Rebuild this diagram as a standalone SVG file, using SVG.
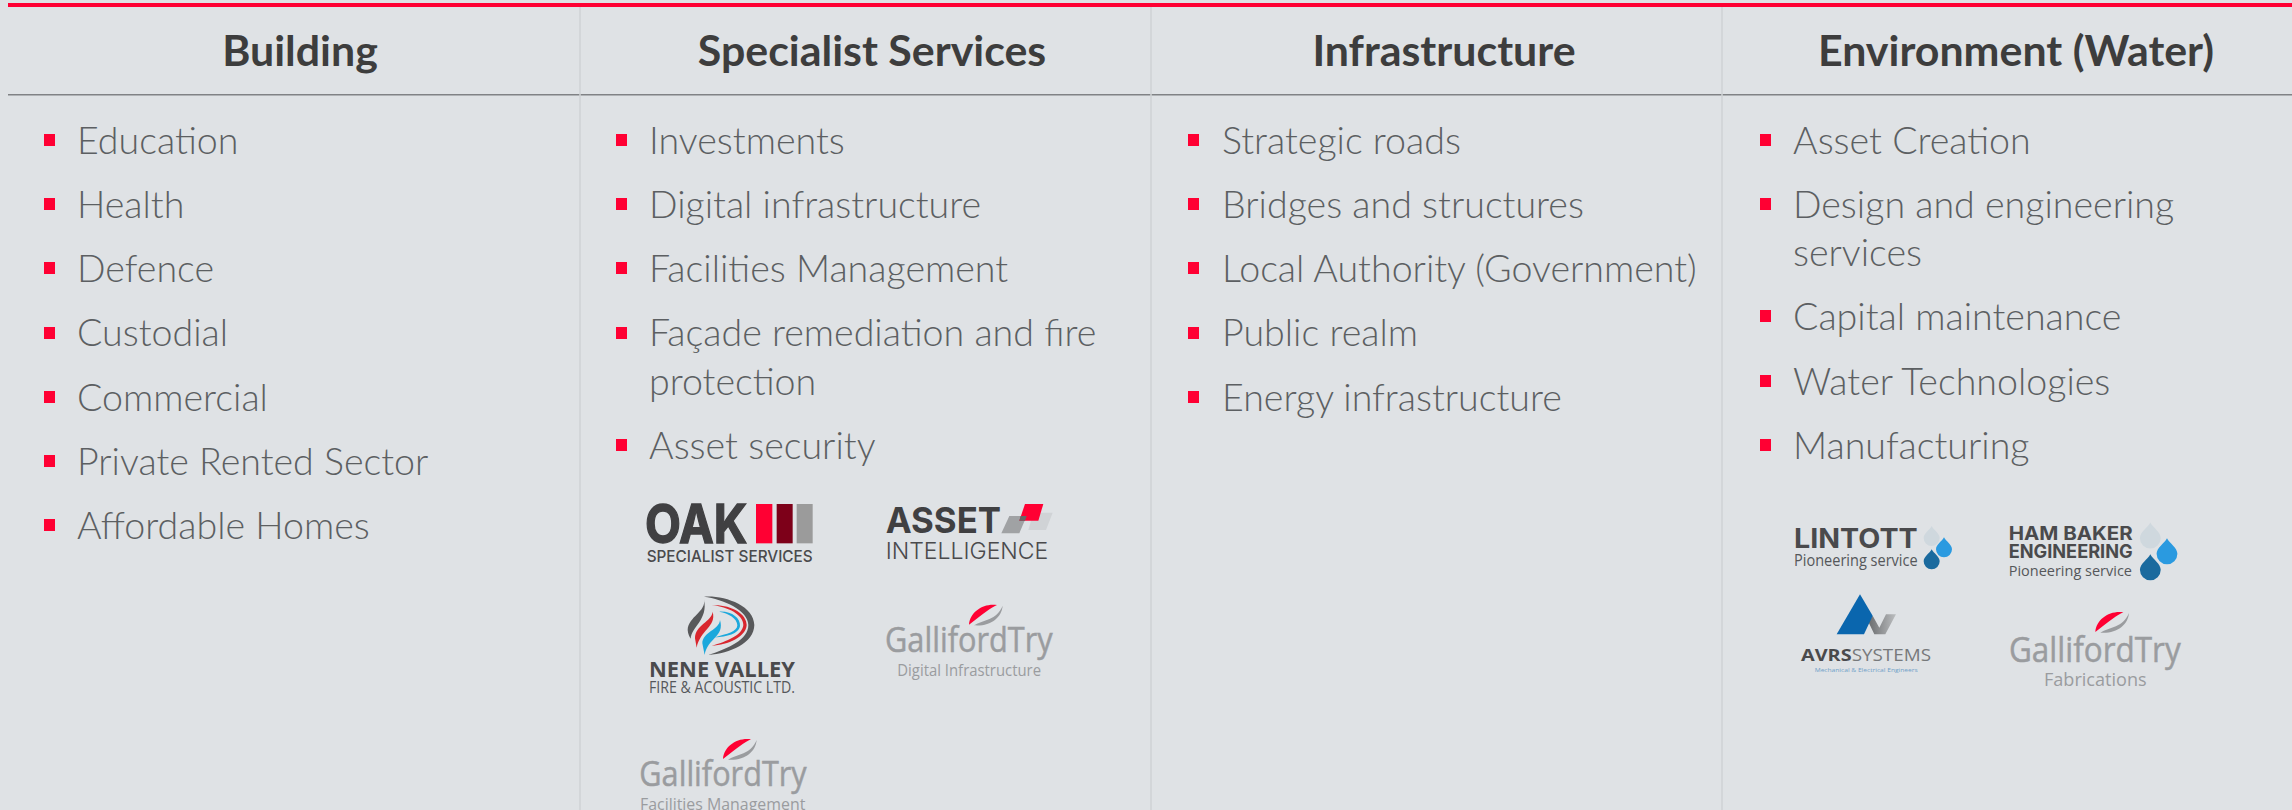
<svg xmlns="http://www.w3.org/2000/svg" width="2292" height="810" viewBox="0 0 2292 810">
<style>
.h{font:700 42.9px Lato,"Liberation Sans",sans-serif;fill:#3d3d3d;text-anchor:middle}
.i{font:300 37.6px Lato,"Liberation Sans",sans-serif;fill:#5c5f62}
.b{fill:#ff0033}
.div{stroke:#cfd2d4;stroke-width:1.5}
.lb{font-family:Inter,"Liberation Sans",Arial,sans-serif;font-weight:700;fill:#404042}
.lr{font-family:Inter,"Liberation Sans",Arial,sans-serif;fill:#4a4a4c}
.ob{font-family:"Open Sans","Noto Sans",sans-serif;font-weight:700;fill:#4a4a4c}
.or{font-family:"Open Sans","Noto Sans",sans-serif;fill:#55575a}
.gt{font-family:"Open Sans","Noto Sans",sans-serif;fill:#9a9c9f}
.gl{stroke:#9a9c9f;stroke-width:1.5}
.sr{fill:#ff0033}.sg{fill:#9a9c9f}
</style>
<defs>
<g id="sw"><path class="sr" d="M0 60C3 22 42-5 84 1C64 10 44 26 0 60Z"/><path class="sg" d="M101 3C98 40 63 66 15 62C43 45 83 47 101 3Z"/></g>
<path id="dr" d="M0-28C6-16 24-6 24 8A24 24 0 0 1-24 8C-24-6-6-16 0-28Z"/>
<linearGradient id="av" x1="0" x2="1" y1="0" y2="0"><stop offset="0" stop-color="#6a6c6e"/><stop offset="1" stop-color="#bcbec0"/></linearGradient>
</defs>
<rect width="2292" height="810" fill="#dfe2e5"/>
<rect x="8" y="3" width="2284" height="4" fill="#ff0033"/>
<rect x="8" y="94" width="2284" height="1.5" fill="#808285"/>
<g id="dividers">
<line class="div" x1="580" y1="7" x2="580" y2="810"/><line class="div" x1="1151" y1="7" x2="1151" y2="810"/><line class="div" x1="1722" y1="7" x2="1722" y2="810"/>
</g>
<g id="col-building">
<text class="h" x="300" y="66">Building</text>
<rect class="b" x="44" y="134" width="11" height="12"/><text class="i" x="77" y="154">Education</text>
<rect class="b" x="44" y="198" width="11" height="12"/><text class="i" x="77" y="218">Health</text>
<rect class="b" x="44" y="262" width="11" height="12"/><text class="i" x="77" y="282">Defence</text>
<rect class="b" x="44" y="327" width="11" height="12"/><text class="i" x="77" y="346">Custodial</text>
<rect class="b" x="44" y="391" width="11" height="12"/><text class="i" x="77" y="411">Commercial</text>
<rect class="b" x="44" y="455" width="11" height="12"/><text class="i" x="77" y="475">Private Rented Sector</text>
<rect class="b" x="44" y="519" width="11" height="12"/><text class="i" x="77" y="539">Affordable Homes</text>
</g>
<g id="col-specialist">
<text class="h" x="872" y="66">Specialist Services</text>
<rect class="b" x="616" y="134" width="11" height="12"/><text class="i" x="649" y="154">Investments</text>
<rect class="b" x="616" y="198" width="11" height="12"/><text class="i" x="649" y="218">Digital infrastructure</text>
<rect class="b" x="616" y="262" width="11" height="12"/><text class="i" x="649" y="282">Facilities Management</text>
<rect class="b" x="616" y="327" width="11" height="12"/><text class="i" x="649" y="346">Façade remediation and fire</text><text class="i" x="649" y="395">protection</text>
<rect class="b" x="616" y="439" width="11" height="12"/><text class="i" x="649" y="459">Asset security</text>
</g>
<g id="logos-specialist" transform="translate(600 480) scale(.33333)">
<g id="logo-oak">
<text class="lb" x="135" y="188" font-size="160" textLength="307" lengthAdjust="spacingAndGlyphs" stroke="#404042" stroke-width="4">OAK</text>
<rect x="468" y="72" width="49" height="118" fill="#ff0033"/><rect x="530" y="72" width="48" height="118" fill="#7d0019"/><rect x="590" y="72" width="48" height="118" fill="#9b9b9b"/>
<text class="lr" x="140" y="245" font-size="49" font-weight="500" textLength="498" lengthAdjust="spacingAndGlyphs">SPECIALIST SERVICES</text>
</g>
<g id="logo-asset">
<text class="lb" x="857" y="158" font-size="108" textLength="346" lengthAdjust="spacingAndGlyphs">ASSET</text>
<polygon points="1300,98 1358,98 1338,150 1285,150" fill="#d0d3d6"/>
<polygon points="1228,108 1280,108 1258,160 1204,160" fill="#a0a2a4"/>
<polygon points="1275,72 1330,72 1315,122 1258,122" fill="#ff0033"/>
<polygon points="1262,108 1280,108 1275,122 1258,122" fill="#666"/>
<text class="lr" x="857" y="237" font-size="70" font-weight="300" textLength="488" lengthAdjust="spacingAndGlyphs">INTELLIGENCE</text>
</g>
<g id="logo-nene">
<path d="M312 350C370 345 462 375 463 435C462 490 390 520 325 525C385 505 445 480 445 435C445 390 370 358 312 350Z" fill="#58595b"/>
<path d="M312 358C320 395 265 410 263 450C264 462 268 470 272 476C275 440 325 420 312 358Z" fill="#58595b"/>
<path d="M335 376C390 372 440 400 440 435C438 470 385 495 335 497C380 485 428 465 430 435C430 405 385 380 335 376Z" fill="#d9262e"/>
<path d="M338 395C335 425 285 435 285 475L290 503C300 450 350 440 338 395Z" fill="#d9262e"/>
<path d="M358 395C395 393 422 415 420 438C416 462 380 470 345 472C380 462 412 455 412 436C412 415 385 400 358 395Z" fill="#1ba8dc"/>
<path d="M360 420C358 450 308 455 307 490L314 525C322 475 375 470 360 420Z" fill="#1ba8dc"/>
<text class="ob" x="147" y="592" font-size="64" textLength="438" lengthAdjust="spacingAndGlyphs">NENE VALLEY</text>
<text class="or" x="147" y="638" font-size="48" textLength="438" lengthAdjust="spacingAndGlyphs">FIRE &amp; ACOUSTIC LTD.</text>
</g>
<g id="logo-gt-digital">
<use href="#sw" transform="translate(1107 374)"/>
<text class="gt gl" x="855" y="515" font-size="106" textLength="503" lengthAdjust="spacingAndGlyphs">GallifordTry</text>
<text class="gt" x="892" y="588" font-size="48" textLength="431" lengthAdjust="spacingAndGlyphs">Digital Infrastructure</text>
</g>
<g id="logo-gt-fm">
<use href="#sw" transform="translate(369 777)"/>
<text class="gt gl" x="118" y="918" font-size="106" textLength="502" lengthAdjust="spacingAndGlyphs">GallifordTry</text>
<text class="gt" x="120" y="990" font-size="48" textLength="496" lengthAdjust="spacingAndGlyphs">Facilities Management</text>
</g>
</g>
<g id="col-infrastructure">
<text class="h" x="1444" y="66">Infrastructure</text>
<rect class="b" x="1188" y="134" width="11" height="12"/><text class="i" x="1222" y="154">Strategic roads</text>
<rect class="b" x="1188" y="198" width="11" height="12"/><text class="i" x="1222" y="218">Bridges and structures</text>
<rect class="b" x="1188" y="262" width="11" height="12"/><text class="i" x="1222" y="282">Local Authority (Government)</text>
<rect class="b" x="1188" y="327" width="11" height="12"/><text class="i" x="1222" y="346">Public realm</text>
<rect class="b" x="1188" y="391" width="11" height="12"/><text class="i" x="1222" y="411">Energy infrastructure</text>
</g>
<g id="col-environment">
<text class="h" x="2016" y="66">Environment (Water)</text>
<rect class="b" x="1760" y="134" width="11" height="12"/><text class="i" x="1793" y="154">Asset Creation</text>
<rect class="b" x="1760" y="198" width="11" height="12"/><text class="i" x="1793" y="218">Design and engineering</text><text class="i" x="1793" y="266">services</text>
<rect class="b" x="1760" y="310" width="11" height="12"/><text class="i" x="1793" y="330">Capital maintenance</text>
<rect class="b" x="1760" y="375" width="11" height="12"/><text class="i" x="1793" y="395">Water Technologies</text>
<rect class="b" x="1760" y="439" width="11" height="12"/><text class="i" x="1793" y="459">Manufacturing</text>
</g>
<g id="logos-environment" transform="translate(1740 490) scale(.33333)">
<g id="logo-lintott">
<text class="lb" x="162" y="175" font-size="80" textLength="371" lengthAdjust="spacingAndGlyphs" style="fill:#4a4a4c">LINTOTT</text>
<text class="or" x="162" y="228" font-size="48" textLength="371" lengthAdjust="spacingAndGlyphs">Pioneering service</text>
<use href="#dr" x="575" y="136" fill="#cfd8de"/><use href="#dr" x="612" y="170" fill="#2a9ae0"/><use href="#dr" x="575" y="206" fill="#1a6a9e"/>
</g>
<g id="logo-hambaker">
<text class="lb" x="806" y="150" font-size="56" textLength="372" lengthAdjust="spacingAndGlyphs" style="fill:#4a4a4c">HAM BAKER</text>
<text class="lb" x="806" y="203" font-size="56" textLength="372" lengthAdjust="spacingAndGlyphs" style="fill:#4a4a4c">ENGINEERING</text>
<text class="or" x="806" y="257" font-size="46" textLength="370" lengthAdjust="spacingAndGlyphs">Pioneering service</text>
<g transform="translate(1231 134) scale(1.3)"><use href="#dr" fill="#cfd8de"/></g><g transform="translate(1281 181) scale(1.3)"><use href="#dr" fill="#2a9ae0"/></g><g transform="translate(1231 229) scale(1.3)"><use href="#dr" fill="#1a6a9e"/></g>
</g>
<g id="logo-avrs">
<polygon points="398,377 385,395 403,433 436,433 468,373 438,373 418,413" fill="url(#av)"/>
<polygon points="360,313 398,377 372,433 290,433" fill="#0a66ae"/>
<text class="ob" x="183" y="513" font-size="50" textLength="152" lengthAdjust="spacingAndGlyphs">AVRS</text>
<text class="or" x="335" y="513" font-size="50" textLength="238" lengthAdjust="spacingAndGlyphs" style="fill:#77797b">SYSTEMS</text>
<text class="or" x="224" y="545" font-size="18" textLength="309" lengthAdjust="spacingAndGlyphs" style="fill:#6f9fc8">Mechanical &amp; Electrical Engineers</text>
</g>
<g id="logo-gt-fab">
<use href="#sw" transform="translate(1066 366)"/>
<text class="gt gl" x="807" y="515" font-size="106" textLength="515" lengthAdjust="spacingAndGlyphs">GallifordTry</text>
<text class="gt" x="912" y="588" font-size="55" textLength="308" lengthAdjust="spacingAndGlyphs">Fabrications</text>
</g>
</g>
</svg>
